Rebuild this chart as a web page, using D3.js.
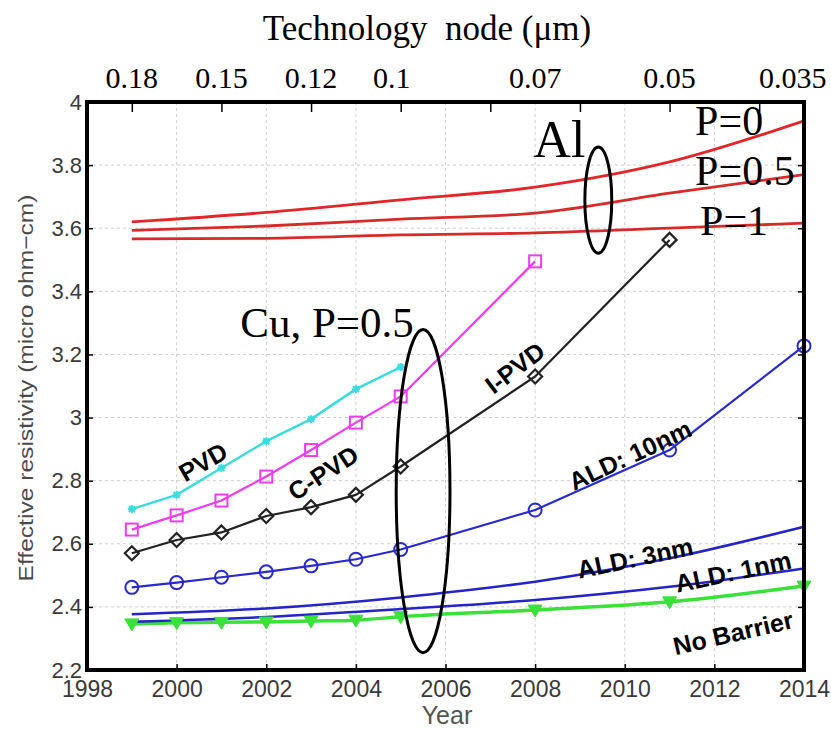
<!DOCTYPE html>
<html>
<head>
<meta charset="utf-8">
<script src="https://cdn.jsdelivr.net/npm/d3@7"></script>
<style>
  body { margin: 0; background: #fff; }
  svg { display: block; }
</style>
</head>
<body>
<div id="chart"></div>
<script>
// Cu 各製程 (年份, 電阻率)
const pvdYears = [1999, 2000, 2001, 2002, 2003, 2004, 2005];
const pvdValues = [2.71, 2.755, 2.84, 2.925, 2.995, 3.09, 3.16];

const cpvdYears = [1999, 2000, 2001, 2002, 2003, 2004, 2005, 2008];
const cpvdValues = [2.645, 2.69, 2.737, 2.813, 2.897, 2.984, 3.067, 3.495];

const ipvdYears = [1999, 2000, 2001, 2002, 2003, 2004, 2005, 2008, 2011];
const ipvdValues = [2.57, 2.612, 2.636, 2.688, 2.716, 2.755, 2.845, 3.13, 3.563];

const ald10Years = [1999, 2000, 2001, 2002, 2003, 2004, 2005, 2008, 2011, 2014];
const ald10Values = [2.462, 2.477, 2.494, 2.511, 2.53, 2.551, 2.582, 2.707, 2.897, 3.227];

const ald3Years = [1999, 2002, 2005, 2008, 2011, 2014];
const ald3Values = [2.377, 2.395, 2.43, 2.48, 2.554, 2.654];

const ald1Years = [1999, 2002, 2005, 2008, 2011, 2014];
const ald1Values = [2.353, 2.368, 2.393, 2.422, 2.464, 2.522];

const noBarrierYears = [1999, 2000, 2001, 2002, 2003, 2004, 2005, 2008, 2011, 2014];
const noBarrierValues = [2.346, 2.35, 2.351, 2.352, 2.355, 2.358, 2.369, 2.39, 2.416, 2.466];

// Al (P=0, 0.5, 1)
const alYears = [1999, 2002, 2005, 2008, 2011, 2014];
const alP0Values = [3.62, 3.65, 3.69, 3.73, 3.81, 3.94];
const alP05Values = [3.593, 3.607, 3.629, 3.648, 3.711, 3.77];
const alP1Values = [3.566, 3.568, 3.579, 3.585, 3.6, 3.616];

// 刻度
const xTicks = [1998, 2000, 2002, 2004, 2006, 2008, 2010, 2012, 2014];
const yTicks = [2.2, 2.4, 2.6, 2.8, 3, 3.2, 3.4, 3.6, 3.8, 4];
const topTickYears = [1999, 2001, 2003, 2005, 2007, 2009, 2011, 2013];
const nodeLabels = ["0.18", "0.15", "0.12", "0.1", "0.07", "0.05", "0.035"];
const nodeYears = [1999, 2001, 2003, 2004.8, 2008, 2011, 2013.75];

// 設置 SVG 的寬與高
const width = 831;
const height = 729;
const margin = {top: 102, right: 27, bottom: 59, left: 87};
const innerWidth = width - margin.left - margin.right;
const innerHeight = height - margin.top - margin.bottom;

const svgRoot = d3.select("#chart").append("svg")
    .attr("width", width)
    .attr("height", height);

const svg = svgRoot.append("g")
    .attr("transform", `translate(${margin.left},${margin.top})`);

const xScale = d3.scaleLinear().domain([1998, 2014]).range([0, innerWidth]);
const yScale = d3.scaleLinear().domain([2.2, 4]).range([innerHeight, 0]);

// 背景格線
const grid = svg.append("g").attr("class", "grid");
xTicks.slice(1, -1).forEach(t => {
    grid.append("line")
        .attr("x1", xScale(t)).attr("x2", xScale(t))
        .attr("y1", 0).attr("y2", innerHeight)
        .attr("stroke", "#cfcfcf")
        .attr("stroke-dasharray", "3,3")
        .attr("stroke-width", 1);
});
yTicks.slice(1, -1).forEach(t => {
    grid.append("line")
        .attr("x1", 0).attr("x2", innerWidth)
        .attr("y1", yScale(t)).attr("y2", yScale(t))
        .attr("stroke", "#cfcfcf")
        .attr("stroke-dasharray", "3,3")
        .attr("stroke-width", 1);
});

// 刻度
const fmtY = d => (Number.isInteger(d) ? d.toString() : d.toFixed(1));

const yAxis = svg.append("g")
    .call(d3.axisLeft(yScale).tickValues(yTicks).tickFormat(fmtY)
        .tickSizeInner(-6).tickSizeOuter(0).tickPadding(5));
yAxis.selectAll("text")
    .style("font-family", "'Liberation Sans', Arial, sans-serif")
    .style("font-size", "22px")
    .attr("fill", "#3a3a3a");

svg.append("g")
    .attr("transform", `translate(${innerWidth},0)`)
    .call(d3.axisRight(yScale).tickValues(yTicks).tickFormat("")
        .tickSizeInner(-6).tickSizeOuter(0));

const xAxis = svg.append("g")
    .attr("transform", `translate(0,${innerHeight})`)
    .call(d3.axisBottom(xScale).tickValues(xTicks).tickFormat(d3.format("d"))
        .tickSizeInner(-6).tickSizeOuter(0).tickPadding(11));
xAxis.selectAll("text")
    .style("font-family", "'Liberation Sans', Arial, sans-serif")
    .style("font-size", "23px")
    .attr("fill", "#3a3a3a");

svg.append("g")
    .call(d3.axisTop(xScale).tickValues(topTickYears).tickFormat("")
        .tickSizeInner(-10).tickSizeOuter(0));

svg.selectAll(".domain").remove();
svg.selectAll(".tick line").attr("stroke", "#000").attr("stroke-width", 1.5);

// 技術節點標籤
svg.append("g").selectAll("text")
    .data(nodeLabels)
    .join("text")
    .attr("x", (d, i) => xScale(nodeYears[i]))
    .attr("y", -14)
    .attr("text-anchor", "middle")
    .style("font-family", "'Liberation Serif', 'Times New Roman', serif")
    .style("font-size", "30px")
    .attr("fill", "#000")
    .text(d => d);

svgRoot.append("text")
    .attr("x", 427)
    .attr("y", 40)
    .attr("text-anchor", "middle")
    .style("font-family", "'Liberation Serif', 'Times New Roman', serif")
    .style("font-size", "35px")
    .style("white-space", "pre")
    .attr("fill", "#000")
    .text("Technology  node (\u03bcm)");

svgRoot.append("text")
    .attr("x", 447)
    .attr("y", 724)
    .attr("text-anchor", "middle")
    .style("font-family", "'Liberation Sans', Arial, sans-serif")
    .style("font-size", "25px")
    .attr("fill", "#555")
    .text("Year");

svgRoot.append("text")
    .attr("transform", "translate(33,388) rotate(-90)")
    .attr("text-anchor", "middle")
    .attr("textLength", 387)
    .attr("lengthAdjust", "spacingAndGlyphs")
    .style("font-family", "'Liberation Sans', Arial, sans-serif")
    .style("font-size", "21px")
    .attr("fill", "#4a4a4a")
    .text("Effective resistivity (micro ohm\u2212cm)");

// 曲線
const zip = (xs, ys) => xs.map((x, i) => [x, ys[i]]);
const straight = d3.line().x(d => xScale(d[0])).y(d => yScale(d[1]));
const smooth = d3.line().x(d => xScale(d[0])).y(d => yScale(d[1])).curve(d3.curveMonotoneX);

const plot = svg.append("g");

function drawLine(points, gen, color, w) {
    plot.append("path")
        .datum(points)
        .attr("d", gen)
        .attr("fill", "none")
        .attr("stroke", color)
        .attr("stroke-width", w)
        .attr("stroke-linejoin", "round");
}

// Al
drawLine(zip(alYears, alP0Values), smooth, "#e4262a", 2.8);
drawLine(zip(alYears, alP05Values), smooth, "#d92a2a", 2.8);
drawLine(zip(alYears, alP1Values), smooth, "#d92a2a", 2.8);

// Cu
drawLine(zip(noBarrierYears, noBarrierValues), smooth, "#3be03b", 3.5);
drawLine(zip(ald1Years, ald1Values), smooth, "#2424c8", 2.5);
drawLine(zip(ald3Years, ald3Values), smooth, "#2424c8", 2.5);
drawLine(zip(ald10Years, ald10Values), straight, "#2a2acc", 2.2);
drawLine(zip(ipvdYears, ipvdValues), straight, "#222", 2.2);
drawLine(zip(cpvdYears, cpvdValues), straight, "#f03cf0", 2.2);
drawLine(zip(pvdYears, pvdValues), straight, "#3cdcdc", 2.5);

// 標記點
plot.append("g").selectAll("path")
    .data(zip(pvdYears, pvdValues))
    .join("path")
    .attr("transform", d => `translate(${xScale(d[0])},${yScale(d[1])})`)
    .attr("d", "M-4,0H4M0,-4V4M-3,-3L3,3M-3,3L3,-3")
    .attr("stroke", "#3cdcdc")
    .attr("stroke-width", 2);

plot.append("g").selectAll("rect")
    .data(zip(cpvdYears, cpvdValues))
    .join("rect")
    .attr("x", d => xScale(d[0]) - 6)
    .attr("y", d => yScale(d[1]) - 6)
    .attr("width", 12).attr("height", 12)
    .attr("fill", "none")
    .attr("stroke", "#f03cf0")
    .attr("stroke-width", 2);

plot.append("g").selectAll("path")
    .data(zip(ipvdYears, ipvdValues))
    .join("path")
    .attr("transform", d => `translate(${xScale(d[0])},${yScale(d[1])})`)
    .attr("d", "M0,-7L7,0L0,7L-7,0Z")
    .attr("fill", "none")
    .attr("stroke", "#222")
    .attr("stroke-width", 2.2);

plot.append("g").selectAll("circle")
    .data(zip(ald10Years, ald10Values))
    .join("circle")
    .attr("cx", d => xScale(d[0]))
    .attr("cy", d => yScale(d[1]))
    .attr("r", 6.5)
    .attr("fill", "none")
    .attr("stroke", "#2a2acc")
    .attr("stroke-width", 2);

plot.append("g").selectAll("path")
    .data(zip(noBarrierYears, noBarrierValues))
    .join("path")
    .attr("transform", d => `translate(${xScale(d[0])},${yScale(d[1])})`)
    .attr("d", "M-7,-5L7,-5L0,7Z")
    .attr("fill", "#3be03b")
    .attr("stroke", "#3be03b")
    .attr("stroke-width", 1);

// 註解 (資料座標)
const boldLabels = [
    {text: "PVD", year: 2000.59, value: 2.859, angle: -30},
    {text: "C-PVD", year: 2003.27, value: 2.824, angle: -33},
    {text: "I-PVD", year: 2007.55, value: 3.157, angle: -37},
    {text: "ALD: 10nm", year: 2010.12, value: 2.881, angle: -25},
    {text: "ALD: 3nm", year: 2010.23, value: 2.555, angle: -12},
    {text: "ALD: 1nm", year: 2012.42, value: 2.511, angle: -12},
    {text: "No Barrier", year: 2012.42, value: 2.317, angle: -13}
];
svg.append("g").selectAll("text")
    .data(boldLabels)
    .join("text")
    .attr("transform", d => `translate(${xScale(d.year)},${yScale(d.value)}) rotate(${d.angle})`)
    .attr("text-anchor", "middle")
    .attr("dy", "0.35em")
    .style("font-family", "'Liberation Sans', Arial, sans-serif")
    .style("font-weight", "bold")
    .style("font-size", "25px")
    .attr("fill", "#000")
    .text(d => d.text);

const serifLabels = [
    {text: "Al", year: 2007.96, value: 3.825, size: 52},
    {text: "P=0", year: 2011.57, value: 3.895, size: 42},
    {text: "P=0.5", year: 2011.57, value: 3.737, size: 42},
    {text: "P=1", year: 2011.68, value: 3.578, size: 42},
    {text: "Cu, P=0.5", year: 2001.42, value: 3.255, size: 43}
];
svg.append("g").selectAll("text")
    .data(serifLabels)
    .join("text")
    .attr("x", d => xScale(d.year))
    .attr("y", d => yScale(d.value))
    .style("font-family", "'Liberation Serif', 'Times New Roman', serif")
    .style("font-size", d => d.size + "px")
    .attr("fill", "#000")
    .text(d => d.text);

const ellipses = [
    {year: 2009.41, value: 3.689, rYear: 0.3, rValue: 0.168},
    {year: 2005.5, value: 2.767, rYear: 0.6, rValue: 0.512}
];
svg.append("g").selectAll("ellipse")
    .data(ellipses)
    .join("ellipse")
    .attr("cx", d => xScale(d.year))
    .attr("cy", d => yScale(d.value))
    .attr("rx", d => xScale(d.year + d.rYear) - xScale(d.year))
    .attr("ry", d => yScale(d.value - d.rValue) - yScale(d.value))
    .attr("fill", "none")
    .attr("stroke", "#000")
    .attr("stroke-width", 3);

// 外框
svg.append("rect")
    .attr("x", 0).attr("y", 0)
    .attr("width", innerWidth).attr("height", innerHeight)
    .attr("fill", "none")
    .attr("stroke", "#000")
    .attr("stroke-width", 4);
</script>
</body>
</html>
